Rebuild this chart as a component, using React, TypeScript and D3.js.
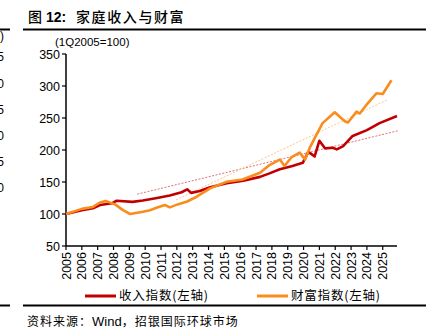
import React from "react";
import * as d3 from "d3";

const incomeDates = [2005.0, 2006.0, 2006.7, 2007.15, 2007.9, 2008.2, 2009.2, 2009.85, 2010.75, 2011.55, 2012.3, 2012.65, 2012.9, 2013.45, 2014.1, 2015.15, 2016.2, 2017.25, 2017.85, 2018.5, 2019.3, 2019.95, 2020.3, 2020.7, 2021.0, 2021.35, 2021.85, 2022.1, 2022.5, 2023.1, 2024.0, 2024.8, 2025.9];
const incomeValues = [100, 106, 109, 114, 116.7, 120.8, 119, 121, 125, 129, 134, 138.6, 133, 136, 141.7, 148, 152, 158, 163.5, 170, 175, 180, 197, 190, 214.5, 202.6, 203.6, 201, 206, 222, 231, 242, 253];

const wealthDates = [2005.0, 2006.0, 2006.7, 2007.15, 2007.5, 2008.1, 2008.6, 2009.05, 2009.5, 2009.85, 2010.3, 2010.8, 2011.25, 2011.55, 2012.05, 2012.65, 2013.25, 2014.1, 2015.15, 2016.15, 2017.25, 2017.85, 2018.5, 2018.8, 2019.25, 2019.75, 2020.1, 2020.4, 2021.2, 2021.97, 2022.6, 2022.8, 2023.35, 2023.55, 2024.05, 2024.6, 2025.0, 2025.55];
const wealthValues = [100, 108, 111, 118, 120.5, 115, 106, 100, 102, 103.6, 106, 110.4, 114, 110.4, 115, 119.5, 127, 140, 150.5, 154, 164.5, 176.5, 185, 175, 189, 196, 185, 204, 242, 259, 245, 243, 260, 257, 273, 288.6, 287.5, 309];

const incomeTrendDates = [2009.5, 2025.95];
const incomeTrendValues = [131, 230];
const wealthTrendDates = [2011.95, 2025.25];
const wealthTrendValues = [122, 278];

const yearTicks = d3.range(2005, 2026);
const yTicks = [50, 100, 150, 200, 250, 300, 350];
const neighborLabels = ["%)", "35", "30", "25", "20", "15", "10"];

const FONT = "'Liberation Sans', Arial, sans-serif";
const CJK = "'Noto Sans CJK SC', sans-serif";
const RED = "#C00000";
const ORANGE = "#FA8C1E";

export default function App() {
  const x = d3.scaleLinear().domain([2005, 2025.9]).range([66, 397]);
  const y = d3.scaleLinear().domain([50, 350]).range([246, 54]);

  const line = d3
    .line<[number, number]>()
    .x((d) => x(d[0]))
    .y((d) => y(d[1]));

  const incomePts = incomeDates.map((d, i) => [d, incomeValues[i]] as [number, number]);
  const wealthPts = wealthDates.map((d, i) => [d, wealthValues[i]] as [number, number]);
  const incTrend = incomeTrendDates.map((d, i) => [d, incomeTrendValues[i]] as [number, number]);
  const wlthTrend = wealthTrendDates.map((d, i) => [d, wealthTrendValues[i]] as [number, number]);

  const neighborY = [40, 61, 88, 114, 140, 166, 192];

  return (
    <svg
      width={441}
      height={333}
      style={{ position: "absolute", left: 0, top: 0, background: "#fff" }}
    >
      <rect x={0} y={0} width={441} height={333} fill="#fff" />
      {/* neighbor chart remnants */}
      <line x1={0} x2={10} y1={29.5} y2={29.5} stroke="#000" strokeWidth={2} />
      <line x1={0} x2={10} y1={305.5} y2={305.5} stroke="#000" strokeWidth={2} />
      {neighborLabels.map((t, i) => (
        <text key={i} x={4} y={neighborY[i]} textAnchor="end" fontFamily={FONT} fontSize={12} fill="#000">
          {t}
        </text>
      ))}

      {/* title */}
      <text x={28} y={22} fontFamily={CJK} fontSize={14} fontWeight={500} fill="#000">图</text>
      <text x={46} y={22} fontFamily={FONT} fontSize={14} fontWeight="bold" fill="#000">12:</text>
      <text x={76} y={22} fontFamily={CJK} fontSize={14} fontWeight={500} letterSpacing={1.6} fill="#000">
        家庭收入与财富
      </text>
      <line x1={23} x2={426} y1={29.5} y2={29.5} stroke="#000" strokeWidth={2} />

      {/* unit label */}
      <text x={55} y={46} fontFamily={FONT} fontSize={11.5} fill="#000">
        (1Q2005=100)
      </text>

      {/* y axis */}
      <line x1={66} x2={66} y1={y(350)} y2={y(50)} stroke="#000" strokeWidth={1.5} />
      {yTicks.map((t) => (
        <g key={t}>
          <line x1={62} x2={66} y1={y(t)} y2={y(t)} stroke="#000" strokeWidth={1.2} />
          <text x={60} y={y(t) + 4.5} textAnchor="end" fontFamily={FONT} fontSize={12.5} fill="#000">
            {t}
          </text>
        </g>
      ))}

      {/* x axis */}
      <line x1={66} x2={397} y1={y(50)} y2={y(50)} stroke="#000" strokeWidth={1.5} />
      {yearTicks.map((t) => (
        <g key={t}>
          <line x1={x(t)} x2={x(t)} y1={y(50)} y2={y(50) + 4} stroke="#000" strokeWidth={1.2} />
          <text
            transform={`translate(${x(t) + 4.5},${y(50) + 6}) rotate(-90)`}
            textAnchor="end"
            fontFamily={FONT}
            fontSize={12.5}
            fill="#000"
          >
            {t}
          </text>
        </g>
      ))}

      {/* trend lines */}
      <path d={line(incTrend) || ""} fill="none" stroke="#E0707A" strokeWidth={1} strokeDasharray="2,1.5" />
      <path d={line(wlthTrend) || ""} fill="none" stroke="#FFC48A" strokeWidth={1} strokeDasharray="2,1.5" />

      {/* series */}
      <path d={line(incomePts) || ""} fill="none" stroke={RED} strokeWidth={2.6} strokeLinejoin="round" />
      <path d={line(wealthPts) || ""} fill="none" stroke={ORANGE} strokeWidth={2.6} strokeLinejoin="round" />

      {/* legend */}
      <line x1={85} x2={116} y1={296} y2={296} stroke={RED} strokeWidth={3} />
      <text x={119} y={300} fontFamily={CJK} fontSize={12.5} letterSpacing={0.8} fill="#000">
        收入指数(左轴)
      </text>
      <line x1={257} x2={288} y1={296} y2={296} stroke={ORANGE} strokeWidth={3} />
      <text x={291} y={300} fontFamily={CJK} fontSize={12.5} letterSpacing={0.8} fill="#000">
        财富指数(左轴)
      </text>

      <line x1={23} x2={426} y1={305.5} y2={305.5} stroke="#000" strokeWidth={2} />

      {/* source */}
      <text x={27} y={326} fontFamily={CJK} fontSize={12} letterSpacing={1} fill="#000">
        资料来源：<tspan fontFamily={FONT} fontSize={13} letterSpacing={0}>Wind</tspan>，招银国际环球市场
      </text>
    </svg>
  );
}
